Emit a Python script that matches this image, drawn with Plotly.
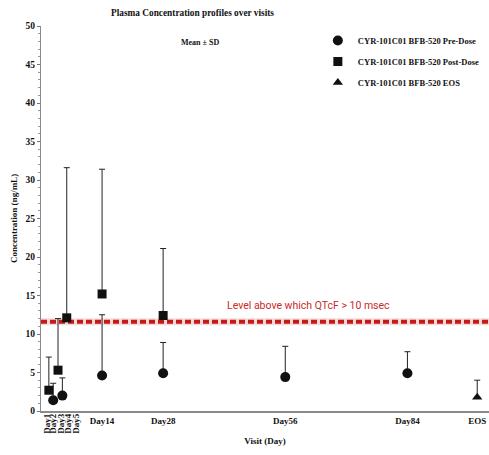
import plotly.graph_objects as go

# ---- data ----
pre_x = [2.8, 4.9, 14, 28, 56, 84]
pre_mean = [1.4, 2.0, 4.6, 4.9, 4.4, 4.9]
pre_sd = [2.2, 2.3, 7.9, 4.0, 4.0, 2.8]

post_x = [1.8, 3.9, 5.9, 14, 28]
post_mean = [2.7, 5.3, 12.1, 15.2, 12.4]
post_sd = [4.3, 6.7, 19.5, 16.2, 8.7]

eos_x = [100]
eos_mean = [1.8]
eos_sd = [2.2]

early_tick_vals = [1.3, 2.8, 4.5, 6.3, 8.0]
early_tick_text = ["Day1", "Day2", "Day3", "Day4", "Day5"]
late_tick_vals = [14, 28, 56, 84, 100]
late_tick_text = ["Day14", "Day28", "Day56", "Day84", "EOS"]

threshold = 11.6
threshold_label = "Level above which QTcF > 10 msec"

x_range = [0, 102.7]
y_range = [0, 50]

serif = "Liberation Serif"
black = "#111111"

def bfont(size):
    return dict(family=serif, size=size, color=black, weight="bold")

fig = go.Figure()

def err(sd):
    return dict(type="data", symmetric=False, array=sd, arrayminus=[0] * len(sd),
                color="#222222", thickness=1, width=3)

fig.add_trace(go.Scatter(x=pre_x, y=pre_mean, mode="markers", name="CYR-101C01 BFB-520 Pre-Dose",
                         marker=dict(symbol="circle", size=10, color=black),
                         error_y=err(pre_sd), legendgroup="a"))
fig.add_trace(go.Scatter(x=post_x, y=post_mean, mode="markers", name="CYR-101C01 BFB-520 Post-Dose",
                         marker=dict(symbol="square", size=9, color=black),
                         error_y=err(post_sd), legendgroup="b"))
fig.add_trace(go.Scatter(x=eos_x, y=eos_mean, mode="markers", name="CYR-101C01 BFB-520 EOS",
                         marker=dict(symbol="triangle-up", size=9, color=black),
                         error_y=err(eos_sd), legendgroup="c"))

# invisible trace to activate the secondary (rotated-label) x axis
fig.add_trace(go.Scatter(x=[early_tick_vals[0]], y=[None], xaxis="x2", showlegend=False,
                         hoverinfo="skip", mode="markers"))

# threshold line (halo + dashed)
fig.add_shape(type="line", xref="paper", x0=0, x1=1, yref="y", y0=threshold, y1=threshold,
              line=dict(color="rgba(230,150,150,0.35)", width=7), layer="below")
fig.add_shape(type="line", xref="paper", x0=0, x1=1, yref="y", y0=threshold, y1=threshold,
              line=dict(color="#c41a1a", width=4, dash="6px,3px"), layer="below")

fig.add_annotation(x=0.598, xref="paper", y=threshold, yref="y", yshift=16, text=threshold_label,
                   showarrow=False, font=dict(family="Roboto", size=10.5, color="#c82a2a"))

fig.add_annotation(x=0.356, xref="paper", y=0.957, yref="paper", yanchor="middle",
                   text="Mean ± SD", showarrow=False, font=bfont(8))

fig.update_layout(
    width=489, height=455,
    margin=dict(l=41, r=0, t=26, b=44, autoexpand=False),
    paper_bgcolor="white", plot_bgcolor="white",
    title=dict(text="Plasma Concentration profiles over visits", x=0.3937, xanchor="center",
               y=0.9714, yanchor="middle", font=bfont(9.3)),
    font=dict(family=serif, color=black),
    showlegend=True,
    legend=dict(x=0.618, xanchor="left", y=1.0, yanchor="top", bgcolor="rgba(0,0,0,0)",
                font=bfont(8.5), tracegroupgap=2, traceorder="grouped", itemwidth=30),
    xaxis=dict(range=x_range, tickvals=late_tick_vals, ticktext=late_tick_text,
               tickfont=bfont(9), ticks="",
               showline=True, linecolor="#8a8a8a", linewidth=2, showgrid=False, zeroline=False,
               title=dict(text="Visit (Day)", font=bfont(9), standoff=13)),
    xaxis2=dict(range=x_range, overlaying="x", anchor="y", side="bottom",
                tickvals=early_tick_vals, ticktext=early_tick_text, tickangle=-90,
                tickfont=bfont(9), ticks="",
                showline=False, showgrid=False, zeroline=False),
    yaxis=dict(range=y_range, tickvals=list(range(0, 51, 5)), showgrid=False, zeroline=False,
               showline=True, linecolor="#8a8a8a", linewidth=1, ticks="outside", ticklen=3,
               tickcolor="#777777",
               minor=dict(dtick=1, ticks="outside", ticklen=2, tickcolor="#999999"),
               tickfont=bfont(9.5),
               title=dict(text="Concentration (ng/mL)", font=bfont(9), standoff=6)),
)

# remove the default page margin so the figure fills the window exactly
fig.write_html("out.html", config={"displayModeBar": False},
               post_script="document.body.style.margin='0';document.body.style.overflow='hidden';")
